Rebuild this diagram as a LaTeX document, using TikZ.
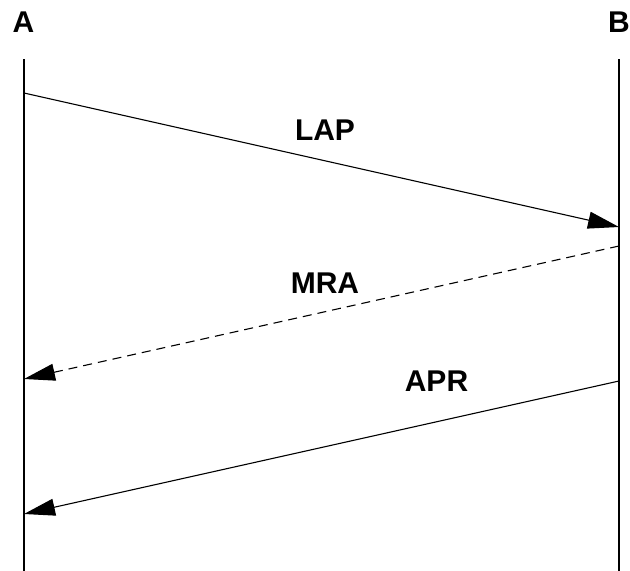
\documentclass[tikz,border=0pt]{standalone}
\usepackage{fontspec}
\setmainfont{Liberation Sans}
\usetikzlibrary{arrows.meta}
\begin{document}
\begin{tikzpicture}[x=1pt,y=-1pt,
  lifeline/.style={line width=2pt},
  msg/.style={line width=1.1pt,-{Triangle[length=31pt,width=17pt]}},
  dmsg/.style={msg,dash pattern=on 9pt off 6pt},
  ent/.style={font=\fontsize{30}{30}\selectfont\bfseries,inner sep=0pt},
  lbl/.style={font=\fontsize{30}{30}\selectfont\bfseries,inner sep=0pt}]
\useasboundingbox (0,0) rectangle (630,571);
\node[ent] (A) at (23.5,22) {A};
\node[ent] (B) at (619,22) {B};
\coordinate (Atop) at (24,59);
\coordinate (Abot) at (24,571);
\coordinate (Btop) at (619,59);
\coordinate (Bbot) at (619,571);
\draw[lifeline] (Atop) -- (Abot);
\draw[lifeline] (Btop) -- (Bbot);
\coordinate (a1) at (24,93);
\coordinate (b1) at (619,227);
\coordinate (b2) at (619,246);
\coordinate (a2) at (24,379);
\coordinate (b3) at (619,381);
\coordinate (a3) at (24,514);
\draw[msg] (a1) -- (b1);
\draw[dmsg] (b2) -- (a2);
\draw[msg] (b3) -- (a3);
\node[lbl] (lap) at (325,130) {LAP};
\node[lbl] (mra) at (325,283) {MRA};
\node[lbl] (apr) at (436.5,381) {APR};
\end{tikzpicture}
\end{document}
